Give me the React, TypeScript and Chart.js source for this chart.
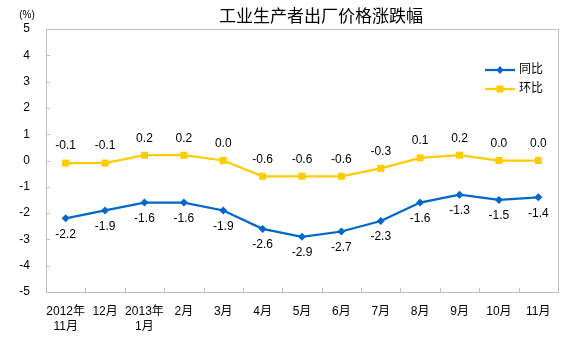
import React, { useEffect, useRef } from 'react';
import { Chart, registerables } from 'chart.js';
Chart.register(...registerables);

const categories: (string | string[])[] = [
  ['2012年', '11月'], '12月', ['2013年', '1月'], '2月', '3月', '4月', '5月',
  '6月', '7月', '8月', '9月', '10月', '11月',
];
const yoy = [-2.2, -1.9, -1.6, -1.6, -1.9, -2.6, -2.9, -2.7, -2.3, -1.6, -1.3, -1.5, -1.4];
const mom = [-0.1, -0.1, 0.2, 0.2, 0.0, -0.6, -0.6, -0.6, -0.3, 0.1, 0.2, 0.0, 0.0];
const seriesNames = ['同比', '环比'];
const titleText = '工业生产者出厂价格涨跌幅';
const unitText = '(%)';
const yMin = -5;
const yMax = 5;

const FONT = '"Liberation Sans", Arial, "Noto Sans CJK SC", sans-serif';
const BLUE = '#0066CC';
const YELLOW = '#FFCC00';
const AXIS = '#BFBFBF';

const overlay = {
  id: 'overlay',
  afterDraw(chart: any) {
    const ctx = chart.ctx as CanvasRenderingContext2D;
    const ca = chart.chartArea;
    const xs = chart.scales.x;
    const ys = chart.scales.y;
    ctx.save();
    // border
    ctx.strokeStyle = AXIS;
    ctx.lineWidth = 1;
    ctx.strokeRect(Math.round(ca.left) + 0.5, Math.round(ca.top) + 0.5, Math.round(ca.right - ca.left), Math.round(ca.bottom - ca.top));
    // y ticks (inside)
    ctx.beginPath();
    for (let v = yMin; v <= yMax; v++) {
      const y = Math.round(ys.getPixelForValue(v)) + 0.5;
      ctx.moveTo(ca.left, y);
      ctx.lineTo(ca.left + 4, y);
    }
    // x ticks at category boundaries
    const n = categories.length;
    for (let i = 1; i < n; i++) {
      const x = Math.round((xs.getPixelForValue(i - 1) + xs.getPixelForValue(i)) / 2) + 0.5;
      ctx.moveTo(x, ca.bottom);
      ctx.lineTo(x, ca.bottom - 4);
    }
    ctx.stroke();

    // data labels
    ctx.fillStyle = '#000';
    ctx.font = `12px ${FONT}`;
    ctx.textAlign = 'center';
    ctx.textBaseline = 'middle';
    const m0 = chart.getDatasetMeta(0);
    const m1 = chart.getDatasetMeta(1);
    m0.data.forEach((p: any, i: number) => {
      ctx.fillText(yoy[i].toFixed(1), p.x, p.y + 16);
    });
    m1.data.forEach((p: any, i: number) => {
      ctx.fillText(mom[i].toFixed(1), p.x, p.y - 17);
    });

    // title
    ctx.font = `17px ${FONT}`;
    ctx.fillText(titleText, 321, 17);
    ctx.font = `10px ${FONT}`;
    ctx.fillText(unitText, 27, 15);

    // legend
    const lx0 = 485, lx1 = 515;
    const rows = [
      { y: 70, color: BLUE, name: seriesNames[0], style: 'diamond' },
      { y: 89, color: YELLOW, name: seriesNames[1], style: 'square' },
    ];
    rows.forEach((r) => {
      ctx.strokeStyle = r.color;
      ctx.lineWidth = 2.25;
      ctx.beginPath();
      ctx.moveTo(lx0, r.y);
      ctx.lineTo(lx1, r.y);
      ctx.stroke();
      ctx.fillStyle = r.color;
      const cx = (lx0 + lx1) / 2;
      ctx.beginPath();
      if (r.style === 'diamond') {
        ctx.moveTo(cx, r.y - 4);
        ctx.lineTo(cx + 3.5, r.y);
        ctx.lineTo(cx, r.y + 4);
        ctx.lineTo(cx - 3.5, r.y);
        ctx.closePath();
      } else {
        ctx.rect(cx - 3.5, r.y - 3.5, 7, 7);
      }
      ctx.fill();
      ctx.fillStyle = '#000';
      ctx.font = `12px ${FONT}`;
      ctx.textAlign = 'left';
      ctx.fillText(r.name, 519, r.y);
    });
    ctx.restore();
  },
};

export default function App() {
  const ref = useRef<HTMLCanvasElement | null>(null);
  useEffect(() => {
    document.body.style.margin = '0';
    const canvas = ref.current!;
    const chart = new Chart(canvas, {
      type: 'line',
      data: {
        labels: categories as any,
        datasets: [
          {
            label: seriesNames[0],
            data: yoy,
            borderColor: BLUE,
            backgroundColor: BLUE,
            borderWidth: 2.25,
            pointStyle: 'rectRot',
            pointRadius: 4,
            pointBorderWidth: 0,
            tension: 0,
          },
          {
            label: seriesNames[1],
            data: mom,
            borderColor: YELLOW,
            backgroundColor: YELLOW,
            borderWidth: 2.25,
            pointStyle: 'rect',
            pointRadius: 5,
            pointBorderWidth: 0,
            tension: 0,
          },
        ],
      },
      options: {
        responsive: false,
        animation: false,
        layout: { padding: { left: 0, right: 30, top: 29, bottom: 0 } },
        plugins: {
          legend: { display: false },
          title: { display: false },
          tooltip: { enabled: false },
        },
        scales: {
          x: {
            offset: true,
            grid: { display: false, drawTicks: false },
            border: { display: true, color: AXIS, width: 1 },
            ticks: {
              color: '#000',
              font: { family: FONT, size: 12, lineHeight: 1.25 },
              padding: 12,
              maxRotation: 0,
              autoSkip: false,
            },
            afterFit: (s: any) => { s.height = 66; },
          },
          y: {
            min: yMin,
            max: yMax,
            grid: { display: false, drawTicks: false },
            border: { display: true, color: AXIS, width: 1 },
            ticks: {
              stepSize: 1,
              color: '#000',
              font: { family: FONT, size: 12 },
              padding: 16,
            },
            afterFit: (s: any) => { s.width = 46; },
          },
        },
      },
      plugins: [overlay],
    });
    return () => chart.destroy();
  }, []);
  return (
    <div style={{ width: 588, height: 358, background: '#fff' }}>
      <canvas ref={ref} width={588} height={358} />
    </div>
  );
}
